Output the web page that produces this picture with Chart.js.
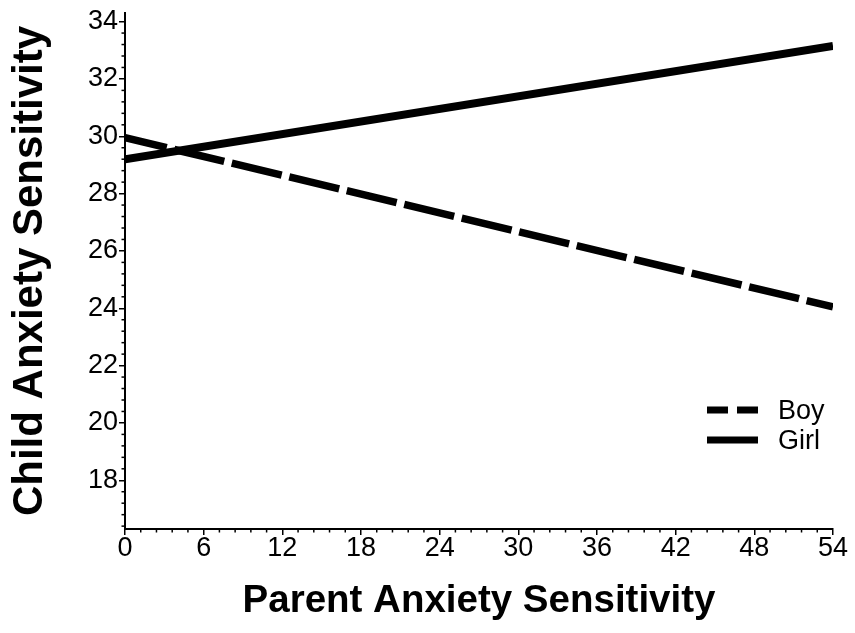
<!DOCTYPE html>
<html><head><meta charset="utf-8">
<script src="https://cdn.jsdelivr.net/npm/chart.js@4.4.1/dist/chart.umd.min.js"></script>
<style>html,body{margin:0;padding:0;background:#fff;} #wrap{width:855px;height:633px;position:relative;}</style>
</head><body><div id="wrap"><canvas id="c"></canvas></div>
<script>
// ---- data ----
const xValues = [0, 54];
const boyValues = [29.95, 24.05];
const girlValues = [29.2, 33.15];
const seriesLabels = ['Boy', 'Girl'];
const xTickLabels = [0, 6, 12, 18, 24, 30, 36, 42, 48, 54];
const yTickLabels = [18, 20, 22, 24, 26, 28, 30, 32, 34];
const xTitle = 'Parent Anxiety Sensitivity';
const yTitle = 'Child Anxiety Sensitivity';

const FONT = "'Liberation Sans', Arial, Helvetica, sans-serif";

const minorTicks = {
  id: 'minorTicks',
  afterDraw(chart) {
    const ctx = chart.ctx, xs = chart.scales.x, ys = chart.scales.y;
    ctx.save();
    ctx.strokeStyle = '#000';
    ctx.lineWidth = 1.5;
    const ystep = (yTickLabels[1] - yTickLabels[0]) / 5;
    for (let i = -20; i < 100; i++) {
      if (i % 5 === 0) continue;
      const v = yTickLabels[0] + i * ystep;
      if (v < ys.min || v > ys.max) continue;
      const p = ys.getPixelForValue(v);
      ctx.beginPath(); ctx.moveTo(ys.right - 3.5, p); ctx.lineTo(ys.right, p); ctx.stroke();
    }
    const xstep = (xTickLabels[1] - xTickLabels[0]) / 5;
    for (let i = -20; i < 100; i++) {
      if (i % 5 === 0) continue;
      const v = xTickLabels[0] + i * xstep;
      if (v < xs.min || v > xs.max) continue;
      const p = xs.getPixelForValue(v);
      ctx.beginPath(); ctx.moveTo(p, xs.top); ctx.lineTo(p, xs.top + 3.5); ctx.stroke();
    }
    ctx.restore();
  }
};

const customLegend = {
  id: 'customLegend',
  afterDraw(chart) {
    const ctx = chart.ctx;
    const rows = [{y: 410, ty: 412, dash: [21, 9]}, {y: 440, ty: 442, dash: []}];
    ctx.save();
    chart.data.datasets.forEach((ds, i) => {
      const r = rows[i];
      ctx.strokeStyle = ds.borderColor;
      ctx.lineWidth = 7;
      ctx.lineCap = 'butt';
      ctx.setLineDash(r.dash);
      ctx.beginPath(); ctx.moveTo(707, r.y); ctx.lineTo(758, r.y); ctx.stroke();
      ctx.setLineDash([]);
      ctx.fillStyle = '#000';
      ctx.font = '27px ' + FONT;
      ctx.textBaseline = 'middle';
      ctx.textAlign = 'left';
      ctx.fillText(ds.label, 778, r.ty);
    });
    ctx.restore();
  }
};

new Chart(document.getElementById('c'), {
  type: 'line',
  data: {
    datasets: [
      {
        label: seriesLabels[0],
        data: xValues.map((x, i) => ({x: x, y: boyValues[i]})),
        borderColor: '#000', borderWidth: 7.5,
        borderDash: [51.3, 7.8], borderDashOffset: 8.4,
        pointRadius: 0, fill: false, tension: 0
      },
      {
        label: seriesLabels[1],
        data: xValues.map((x, i) => ({x: x, y: girlValues[i]})),
        borderColor: '#000', borderWidth: 8,
        pointRadius: 0, fill: false, tension: 0
      }
    ]
  },
  options: {
    responsive: true, maintainAspectRatio: false, animation: false,
    layout: {padding: {left: 0, right: 22, top: 13, bottom: 0}},
    plugins: {legend: {display: false}, tooltip: {enabled: false}},
    scales: {
      x: {
        type: 'linear', min: 0, max: 54,
        afterBuildTicks: s => { s.ticks = xTickLabels.map(v => ({value: v})); },
        afterFit: s => { s.height = 104; s.paddingLeft = 0; s.paddingRight = 0; },
        ticks: {color: '#000', font: {family: FONT, size: 27, lineHeight: 1}, padding: 0, maxRotation: 0, autoSkip: false},
        grid: {display: true, drawOnChartArea: false, drawTicks: true, tickLength: 6, color: '#000', lineWidth: 1.5},
        border: {display: true, color: '#000', width: 2},
        title: {display: true, text: xTitle, color: '#000', font: {family: FONT, size: 38.5, weight: 'bold', lineHeight: 1.2}, padding: {top: 0, bottom: 9}}
      },
      y: {
        type: 'linear', min: 16.3, max: 34.3,
        afterBuildTicks: s => { s.ticks = yTickLabels.map(v => ({value: v})); },
        afterFit: s => { s.width = 125; s.paddingTop = 0; s.paddingBottom = 0; },
        ticks: {color: '#000', font: {family: FONT, size: 27, lineHeight: 1}, padding: 1, autoSkip: false},
        grid: {display: true, drawOnChartArea: false, drawTicks: true, tickLength: 6, color: '#000', lineWidth: 1.5},
        border: {display: true, color: '#000', width: 2},
        title: {display: true, text: yTitle, color: '#000', font: {family: FONT, size: 42, weight: 'bold', lineHeight: 1.2}, padding: {top: 5.5, bottom: 0}}
      }
    }
  },
  plugins: [minorTicks, customLegend]
});
</script></body></html>
